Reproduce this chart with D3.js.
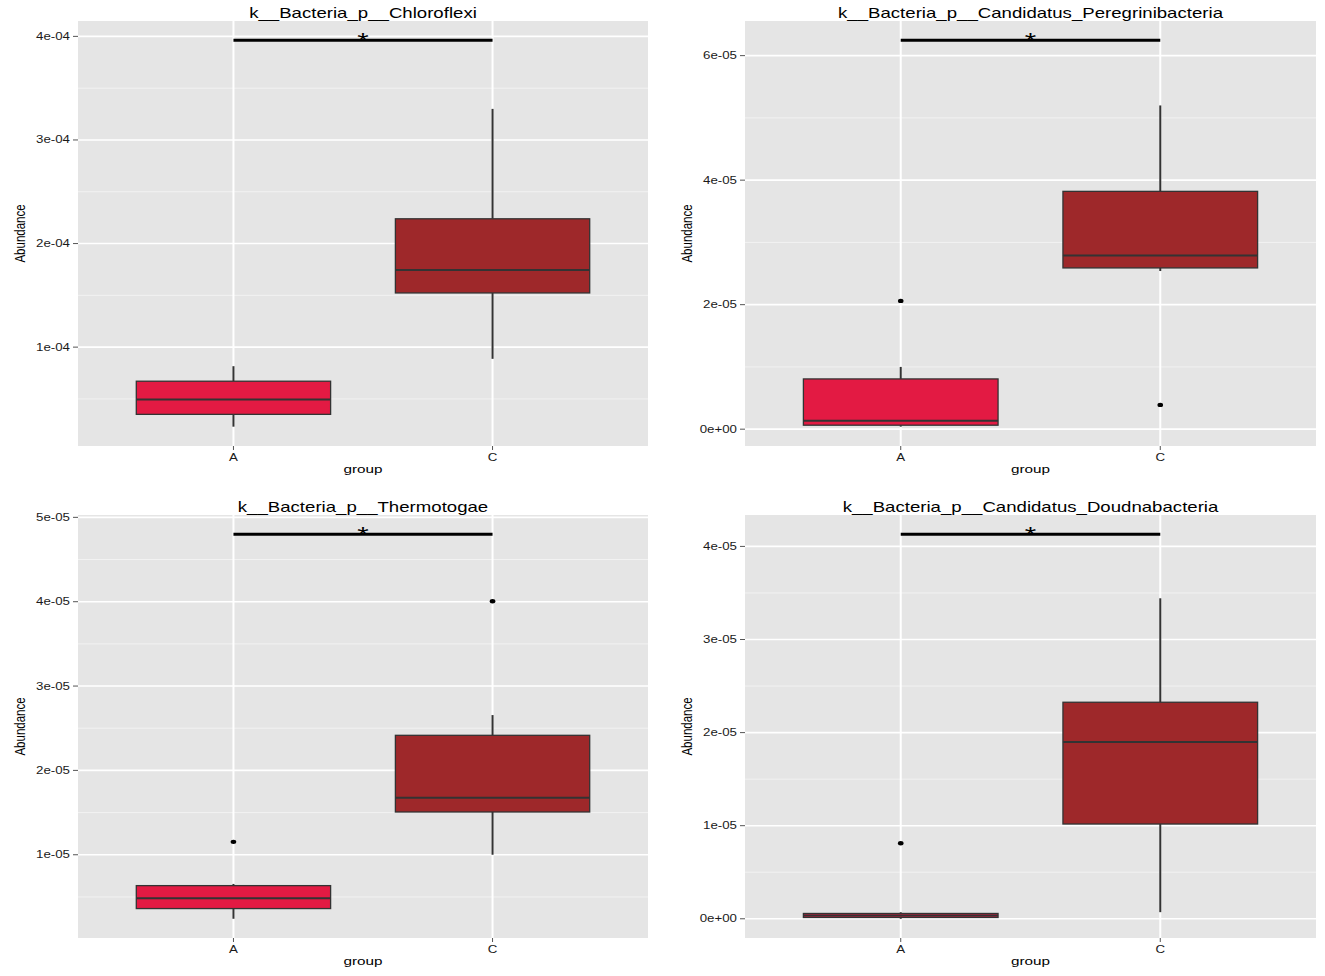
<!DOCTYPE html>
<html>
<head>
<meta charset="utf-8">
<script src="https://cdn.jsdelivr.net/npm/d3@7"></script>
<style>
    body { margin: 0; background: #ffffff; }
    text { font-family: "Liberation Sans", Arial, sans-serif; }
</style>
</head>
<body>
<div id="chart"></div>
<script>

// ---- data ----
const titles = [
    "k__Bacteria_p__Chloroflexi",
    "k__Bacteria_p__Candidatus_Peregrinibacteria",
    "k__Bacteria_p__Thermotogae",
    "k__Bacteria_p__Candidatus_Doudnabacteria"
];
const groups = ["A", "C"];

// [lower whisker, q1, median, q3, upper whisker]
const boxA = [
    [0.232e-4, 0.351e-4, 0.494e-4, 0.671e-4, 0.816e-4],
    [0.04e-5, 0.064e-5, 0.134e-5, 0.807e-5, 1.0e-5],
    [0.241e-5, 0.362e-5, 0.485e-5, 0.634e-5, 0.654e-5],
    [0.0, 0.014e-5, 0.035e-5, 0.057e-5, 0.07e-5]
];
const boxC = [
    [0.887e-4, 1.523e-4, 1.745e-4, 2.239e-4, 3.30e-4],
    [2.54e-5, 2.59e-5, 2.79e-5, 3.82e-5, 5.2e-5],
    [1.0e-5, 1.507e-5, 1.676e-5, 2.416e-5, 2.656e-5],
    [0.071e-5, 1.018e-5, 1.898e-5, 2.326e-5, 3.443e-5]
];
const outliersA = [[], [2.06e-5], [1.153e-5], [0.812e-5]];
const outliersC = [[], [0.39e-5], [4.005e-5], []];

const sigLevel = [3.962e-4, 6.246e-5, 4.80e-5, 4.131e-5];
const sigLabel = ["*", "*", "*", "*"];

const yTicks = [
    [1e-4, 2e-4, 3e-4, 4e-4],
    [0, 2e-5, 4e-5, 6e-5],
    [1e-5, 2e-5, 3e-5, 4e-5, 5e-5],
    [0, 1e-5, 2e-5, 3e-5, 4e-5]
];
const yTickLabels = [
    ["1e-04", "2e-04", "3e-04", "4e-04"],
    ["0e+00", "2e-05", "4e-05", "6e-05"],
    ["1e-05", "2e-05", "3e-05", "4e-05", "5e-05"],
    ["0e+00", "1e-05", "2e-05", "3e-05", "4e-05"]
];

const fills = ["#E31A43", "#9E282A"];

// ---- layout ----
const W = 1325, H = 976;
const stretch = 1.33;   // the source image is wider than it is tall
const cols = [[78, 648], [745, 1316]];
const rows = [[21, 446], [515, 938]];

const svg = d3.select("#chart").append("svg")
    .attr("width", W)
    .attr("height", H);

// text drawn with the same horizontal stretch as the original
function addText(g, x, y, str, size, anchor, rotated, fill) {
    let t = g.append("text")
        .attr("transform", rotated
            ? "translate(" + x + "," + y + ") rotate(-90) scale(1," + stretch + ")"
            : "translate(" + x + "," + y + ") scale(" + stretch + ",1)")
        .attr("text-anchor", anchor)
        .attr("font-size", size + "px")
        .attr("fill", fill || "#000")
        .text(str);
    return t;
}

titles.forEach(function(title, i) {
    let xr = cols[i % 2], yr = rows[Math.floor(i / 2)];
    let g = svg.append("g");

    // y domain like ggplot: data range plus 5% each side
    let all = boxA[i].concat(boxC[i], outliersA[i], outliersC[i], [sigLevel[i]]);
    let lo = d3.min(all), hi = d3.max(all), pad = (hi - lo) * 0.05;

    let y = d3.scaleLinear()
        .domain([lo - pad, hi + pad])
        .range([yr[1], yr[0]]);

    let x = d3.scalePoint()
        .domain(groups)
        .range(xr)
        .padding(0.6);

    let boxW = x.step() * 0.75;

    // panel background
    g.append("rect")
        .attr("x", xr[0]).attr("y", yr[0])
        .attr("width", xr[1] - xr[0]).attr("height", yr[1] - yr[0])
        .attr("fill", "#E5E5E5");

    // minor grid
    let step = yTicks[i][1] - yTicks[i][0];
    let minors = [yTicks[i][0] - step / 2].concat(yTicks[i].map(d => d + step / 2))
        .filter(d => d > y.domain()[0] && d < y.domain()[1]);

    g.selectAll(".minor").data(minors).enter().append("line")
        .attr("x1", xr[0]).attr("x2", xr[1])
        .attr("y1", d => y(d)).attr("y2", d => y(d))
        .attr("stroke", "#F2F2F2").attr("stroke-width", 1);

    // major grid
    g.selectAll(".major").data(yTicks[i]).enter().append("line")
        .attr("x1", xr[0]).attr("x2", xr[1])
        .attr("y1", d => y(d)).attr("y2", d => y(d))
        .attr("stroke", "#fff").attr("stroke-width", 1.6);

    g.selectAll(".vmajor").data(groups).enter().append("line")
        .attr("x1", d => x(d)).attr("x2", d => x(d))
        .attr("y1", yr[0]).attr("y2", yr[1])
        .attr("stroke", "#fff").attr("stroke-width", 2);

    // y axis ticks + labels
    yTicks[i].forEach(function(t, k) {
        g.append("line")
            .attr("x1", xr[0] - 5).attr("x2", xr[0])
            .attr("y1", y(t)).attr("y2", y(t))
            .attr("stroke", "#555").attr("stroke-width", 1);
        addText(g, xr[0] - 8, y(t) + 3.5, yTickLabels[i][k], 10, "end", false, "#1a1a1a");
    });

    // x axis ticks + labels
    groups.forEach(function(gr) {
        g.append("line")
            .attr("x1", x(gr)).attr("x2", x(gr))
            .attr("y1", yr[1]).attr("y2", yr[1] + 4)
            .attr("stroke", "#555").attr("stroke-width", 1);
        addText(g, x(gr), yr[1] + 15, gr, 10, "middle", false, "#1a1a1a");
    });

    // boxes
    let stats = [boxA[i], boxC[i]];
    let outs = [outliersA[i], outliersC[i]];

    groups.forEach(function(gr, j) {
        let s = stats[j], cx = x(gr);

        g.append("line")
            .attr("x1", cx).attr("x2", cx)
            .attr("y1", y(s[0])).attr("y2", y(s[1]))
            .attr("stroke", "#333").attr("stroke-width", 2);
        g.append("line")
            .attr("x1", cx).attr("x2", cx)
            .attr("y1", y(s[3])).attr("y2", y(s[4]))
            .attr("stroke", "#333").attr("stroke-width", 2);

        g.append("rect")
            .attr("x", cx - boxW / 2).attr("width", boxW)
            .attr("y", y(s[3])).attr("height", Math.max(y(s[1]) - y(s[3]), 0.5))
            .attr("fill", fills[j])
            .attr("stroke", "#333").attr("stroke-width", 1.3);

        g.append("line")
            .attr("x1", cx - boxW / 2).attr("x2", cx + boxW / 2)
            .attr("y1", y(s[2])).attr("y2", y(s[2]))
            .attr("stroke", "#333").attr("stroke-width", 2);

        g.selectAll(".out" + j).data(outs[j]).enter().append("ellipse")
            .attr("cx", cx).attr("cy", d => y(d))
            .attr("rx", 2.8).attr("ry", 2.2)
            .attr("fill", "#000");
    });

    // significance bar
    g.append("line")
        .attr("x1", x(groups[0])).attr("x2", x(groups[1]))
        .attr("y1", y(sigLevel[i])).attr("y2", y(sigLevel[i]))
        .attr("stroke", "#000").attr("stroke-width", 3);
    addText(g, (x(groups[0]) + x(groups[1])) / 2, y(sigLevel[i]) + 8, sigLabel[i], 22, "middle");

    // titles
    let cxPanel = (xr[0] + xr[1]) / 2;
    addText(g, cxPanel, yr[0] - 3.5, title, 14, "middle");
    addText(g, cxPanel, yr[1] + 27, "group", 11.5, "middle");
    addText(g, xr[0] - 53, (yr[0] + yr[1]) / 2, "Abundance", 11.5, "middle", true);
});

</script>
</body>
</html>
